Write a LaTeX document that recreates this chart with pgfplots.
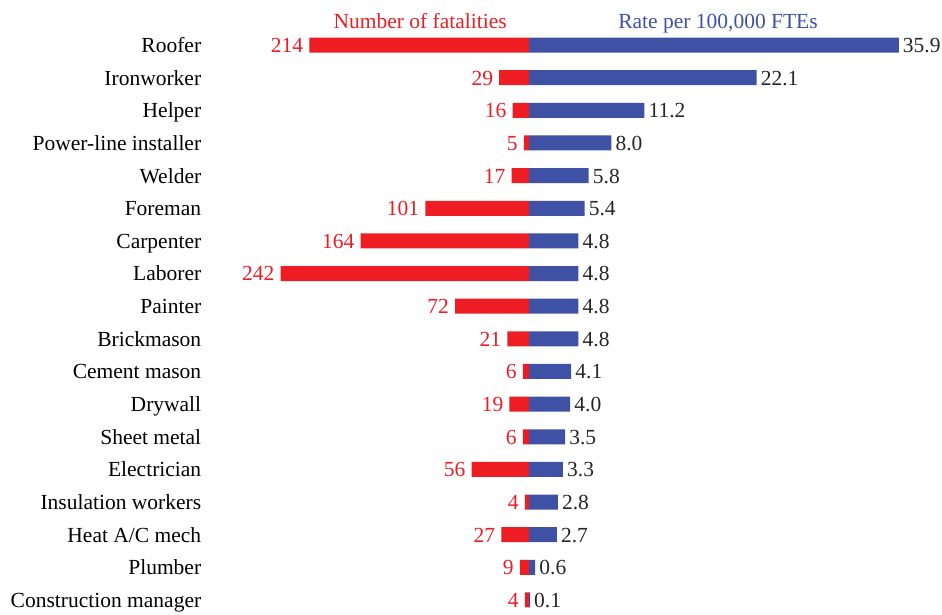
\documentclass[border=0pt]{standalone}
\usepackage{fontspec}
\setmainfont{Liberation Serif}
\usepackage{pgfplots}
\pgfplotsset{compat=1.18}
\definecolor{fatred}{RGB}{238,29,36}
\definecolor{rateblue}{RGB}{63,81,165}

\begin{document}
\begin{tikzpicture}
\useasboundingbox (0pt,0pt) rectangle (942pt,614pt);
\pgfplotsset{
  every axis/.append style={
    scale only axis, height=614pt,
    ymin=-1.38, ymax=17.43, y dir=reverse,
    xbar, bar width=15pt, bar shift=0pt,
    axis line style={draw=none}, major tick style={draw=none},
    clip=false,
    font=\fontsize{21.5}{24}\selectfont,
    point meta=explicit symbolic,
    nodes near coords,
  },
}
% left half: number of fatalities
\begin{axis}[
  at={(529pt,0pt)}, anchor=south east,
  width=308pt, xmin=0, xmax=300, x dir=reverse,
  xtick=\empty,
  ytick={0,...,17},
  yticklabels={Roofer,Ironworker,Helper,Power-line installer,Welder,Foreman,
    Carpenter,Laborer,Painter,Brickmason,Cement mason,Drywall,Sheet metal,
    Electrician,Insulation workers,Heat A/C mech,Plumber,Construction manager},
  yticklabel style={xshift=-12pt, yshift=-5pt, text=black, text height=0.7em, text depth=0.22em},
  every node near coord/.append style={anchor=east, text=fatred, inner sep=3pt,
    xshift=-3pt, yshift=-5pt, text height=0.7em, text depth=0.22em},
]
\addplot[fill=fatred, draw=none] coordinates {
  (214,0) [214] (29,1) [29] (16,2) [16] (5,3) [5] (17,4) [17] (101,5) [101]
  (164,6) [164] (242,7) [242] (72,8) [72] (21,9) [21] (6,10) [6] (19,11) [19]
  (6,12) [6] (56,13) [56] (4,14) [4] (27,15) [27] (9,16) [9] (4,17) [4]};
\node[anchor=base, text=fatred] at (axis cs:106,-0.52) {Number of fatalities};
\end{axis}
% right half: rate per 100,000 FTEs
\begin{axis}[
  at={(529pt,0pt)}, anchor=south west,
  width=412pt, xmin=0, xmax=40,
  xtick=\empty, ytick=\empty,
  every node near coord/.append style={anchor=west, text=black!85, inner sep=3pt,
    xshift=1pt, yshift=-5pt, text height=0.7em, text depth=0.22em},
]
\addplot[fill=rateblue, draw=none] coordinates {
  (35.9,0) [35.9] (22.1,1) [22.1] (11.2,2) [11.2] (8.0,3) [8.0] (5.8,4) [5.8]
  (5.4,5) [5.4] (4.8,6) [4.8] (4.8,7) [4.8] (4.8,8) [4.8] (4.8,9) [4.8]
  (4.1,10) [4.1] (4.0,11) [4.0] (3.5,12) [3.5] (3.3,13) [3.3] (2.8,14) [2.8]
  (2.7,15) [2.7] (0.6,16) [0.6] (0.1,17) [0.1]};
\node[anchor=base, text=rateblue] at (axis cs:18.35,-0.52) {Rate per 100,000 FTEs};
\end{axis}
\end{tikzpicture}
\end{document}
